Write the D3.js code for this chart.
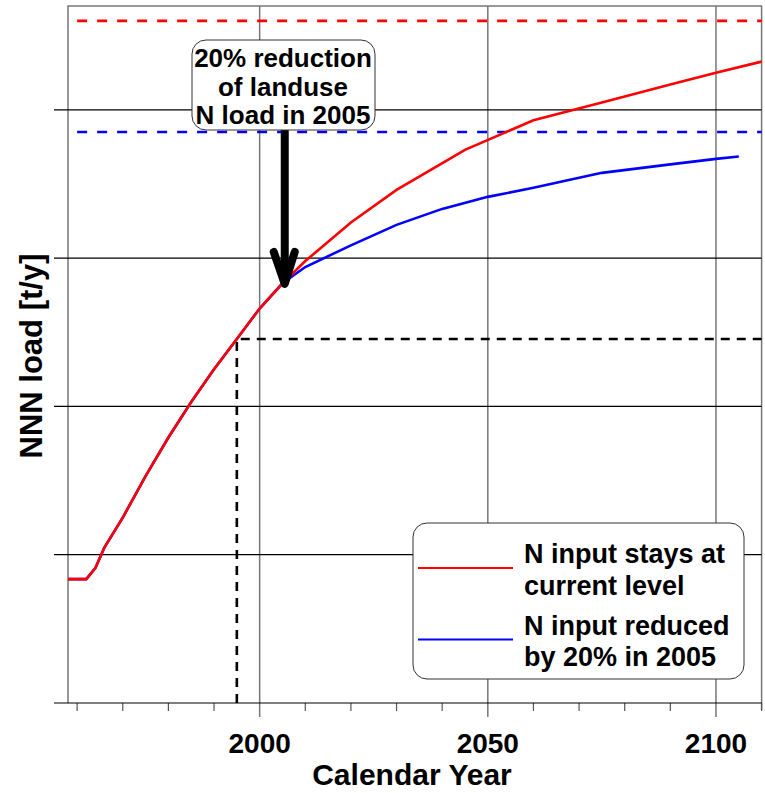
<!DOCTYPE html>
<html>
<head>
<meta charset="utf-8">
<script src="https://cdn.jsdelivr.net/npm/d3@7"></script>
<style>
  body { margin: 0; background: #fff; }
  text { font-family: "Liberation Sans", Arial, sans-serif; font-weight: bold; }
</style>
</head>
<body>
<svg id="chart" width="765" height="793"></svg>
<script>
// data (y in grid units, no labels shown)
const redYears  = [1958, 1962, 1964, 1966, 1970, 1975, 1980, 1985, 1990, 1995, 2000, 2005, 2010, 2020, 2030, 2045, 2060, 2075, 2090, 2100, 2110];
const redValues = [0.835, 0.835, 0.91, 1.05, 1.25, 1.53, 1.79, 2.03, 2.25, 2.455, 2.66, 2.83, 2.98, 3.24, 3.46, 3.73, 3.93, 4.05, 4.17, 4.25, 4.325];
const blueYears  = [1958, 1962, 1964, 1966, 1970, 1975, 1980, 1985, 1990, 1995, 2000, 2005, 2010, 2020, 2030, 2040, 2050, 2060, 2075, 2090, 2100, 2105];
const blueValues = [0.835, 0.835, 0.91, 1.05, 1.25, 1.53, 1.79, 2.03, 2.25, 2.455, 2.66, 2.83, 2.94, 3.086, 3.224, 3.332, 3.413, 3.474, 3.575, 3.632, 3.669, 3.685];
const majorTicks = [2000, 2050, 2100];
const minorTicks = [1960, 1970, 1980, 1990, 2010, 2020, 2030, 2040, 2060, 2070, 2080, 2090, 2110];
const yTicks = [1, 2, 3, 4];
const redLimit = 4.6, blueLimit = 3.85;
const refYear = 1995, refValue = 2.455;
const arrowYear = 2005.5, arrowValue = 2.826;
const noteLines = ["20% reduction", "of landuse", "N load in 2005"];
const legendItems = [
  { color: "red", lines: ["N input stays at", "current level"] },
  { color: "blue", lines: ["N input reduced", "by 20% in 2005"] }
];

const svg = d3.select("#chart");
const x = d3.scaleLinear().domain([1958, 2110]).range([68, 761.6]);
const y = d3.scaleLinear().domain([0, 4.7]).range([703, 6]);
const x0 = x.range()[0], x1 = x.range()[1];

// frame (grey), left/top/right
svg.append("path")
  .attr("d", `M${x0},${y(0)}V${y(4.7)}H${x1}V${y(0) + 7}`)
  .attr("fill", "none").attr("stroke", "#777").attr("stroke-width", 1.5);

// vertical grid + major ticks
svg.append("g").selectAll("line").data(majorTicks).join("line")
  .attr("x1", d => x(d)).attr("x2", d => x(d))
  .attr("y1", y(4.7)).attr("y2", y(0) + 14)
  .attr("stroke", "#777").attr("stroke-width", 1.5);

// minor ticks
svg.append("g").selectAll("line").data(minorTicks).join("line")
  .attr("x1", d => x(d)).attr("x2", d => x(d))
  .attr("y1", y(0)).attr("y2", y(0) + 8)
  .attr("stroke", "#555").attr("stroke-width", 1.2);

// horizontal grid incl. outward tick and bottom axis
svg.append("g").selectAll("line").data([0].concat(yTicks)).join("line")
  .attr("x1", x0 - 14).attr("x2", x1)
  .attr("y1", d => y(d)).attr("y2", d => y(d))
  .attr("stroke", "#000").attr("stroke-width", 1.2);

// tick labels
svg.append("g").selectAll("text").data(majorTicks).join("text")
  .attr("x", d => x(d)).attr("y", 753)
  .attr("text-anchor", "middle").attr("font-size", 28)
  .text(d => d);

svg.append("text")
  .attr("x", 412).attr("y", 785).attr("text-anchor", "middle")
  .attr("font-size", 30).text("Calendar Year");

svg.append("text")
  .attr("transform", "translate(42,356) rotate(-90)")
  .attr("text-anchor", "middle").attr("font-size", 31)
  .text("NNN load [t/y]");

// dashed limit lines
svg.append("line")
  .attr("x1", x(1960)).attr("x2", x1).attr("y1", y(redLimit)).attr("y2", y(redLimit))
  .attr("stroke", "red").attr("stroke-width", 2.6).attr("stroke-dasharray", "10,10");
svg.append("line")
  .attr("x1", x(1960)).attr("x2", x1).attr("y1", y(blueLimit)).attr("y2", y(blueLimit))
  .attr("stroke", "blue").attr("stroke-width", 2.6).attr("stroke-dasharray", "10,10");

// reference (1995) dashed lines
svg.append("path")
  .attr("d", `M${x(refYear)},${y(0)}V${y(refValue)}H${x1}`)
  .attr("fill", "none").attr("stroke", "#000").attr("stroke-width", 2.6)
  .attr("stroke-dasharray", "9,7");

const line = d3.line().x(d => x(d[0])).y(d => y(d[1]));

svg.append("path")
  .datum(d3.zip(blueYears, blueValues))
  .attr("d", line).attr("fill", "none")
  .attr("stroke", "blue").attr("stroke-width", 2.6);
svg.append("path")
  .datum(d3.zip(redYears, redValues))
  .attr("d", line).attr("fill", "none")
  .attr("stroke", "red").attr("stroke-width", 2.6);

// annotation box + arrow
const ax = x(arrowYear), ay = y(arrowValue);
svg.append("line")
  .attr("x1", ax).attr("x2", ax).attr("y1", 128).attr("y2", ay - 4)
  .attr("stroke", "#000").attr("stroke-width", 8);
svg.append("path")
  .attr("d", `M${ax - 11},${ay - 32}L${ax},${ay}L${ax + 10},${ay - 32}`)
  .attr("fill", "none").attr("stroke", "#000").attr("stroke-width", 8)
  .attr("stroke-linecap", "round").attr("stroke-linejoin", "round");

svg.append("rect")
  .attr("x", 192).attr("y", 40).attr("width", 183).attr("height", 90)
  .attr("rx", 14).attr("fill", "#fff").attr("stroke", "#333").attr("stroke-width", 1);
svg.append("g").selectAll("text").data(noteLines).join("text")
  .attr("x", 283).attr("y", (d, i) => 67 + i * 28.5)
  .attr("text-anchor", "middle").attr("font-size", 26)
  .text(d => d);

// legend
svg.append("rect")
  .attr("x", 413).attr("y", 523).attr("width", 331).attr("height", 156)
  .attr("rx", 14).attr("fill", "#fff").attr("stroke", "#333").attr("stroke-width", 1);
const leg = svg.append("g").selectAll("g").data(legendItems).join("g")
  .attr("transform", (d, i) => `translate(0,${i * 71.5})`);
leg.append("line")
  .attr("x1", 418).attr("x2", 513).attr("y1", 568).attr("y2", 568)
  .attr("stroke", d => d.color).attr("stroke-width", 2.2);
leg.append("text")
  .attr("x", 524).attr("y", 563).attr("font-size", 27)
  .selectAll("tspan").data(d => d.lines).join("tspan")
  .attr("x", 524).attr("dy", (d, i) => i === 0 ? 0 : 31.5)
  .text(d => d);
</script>
</body>
</html>
